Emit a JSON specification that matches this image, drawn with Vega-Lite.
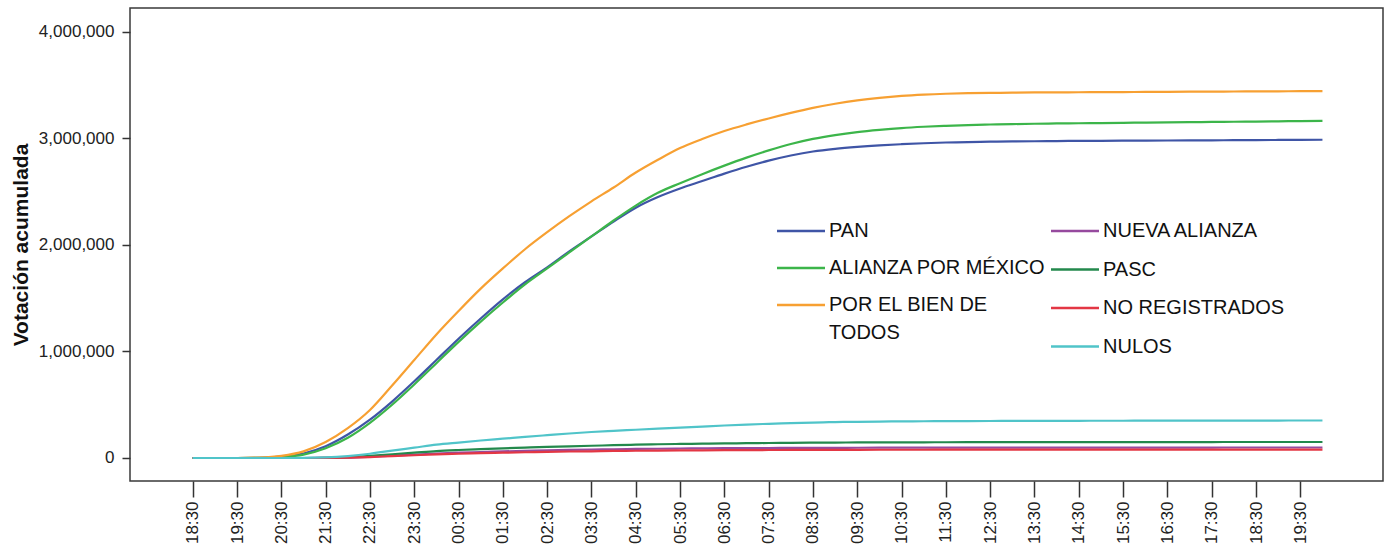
{
  "$schema": "https://vega.github.io/schema/vega-lite/v6.json",
  "autosize": {"type": "none"},
  "width": 1253,
  "height": 473,
  "padding": {"left": 130, "top": 8, "right": 5, "bottom": 73},
  "background": "white",
  "config": {
    "view": {"stroke": "#3a3a3a", "strokeWidth": 1.5},
    "font": "Liberation Sans"
  },
  "data": {"values": [
    {"t": "2006-07-02T18:30", "PAN": 0, "ALIANZA POR MÉXICO": 0, "POR EL BIEN DE TODOS": 0, "NUEVA ALIANZA": 0, "PASC": 0, "NO REGISTRADOS": 0, "NULOS": 0},
    {"t": "2006-07-02T19:00", "PAN": 0, "ALIANZA POR MÉXICO": 0, "POR EL BIEN DE TODOS": 0, "NUEVA ALIANZA": 0, "PASC": 0, "NO REGISTRADOS": 0, "NULOS": 0},
    {"t": "2006-07-02T19:30", "PAN": 0, "ALIANZA POR MÉXICO": 0, "POR EL BIEN DE TODOS": 0, "NUEVA ALIANZA": 0, "PASC": 0, "NO REGISTRADOS": 0, "NULOS": 0},
    {"t": "2006-07-02T20:00", "PAN": 2000, "ALIANZA POR MÉXICO": 1500, "POR EL BIEN DE TODOS": 4000, "NUEVA ALIANZA": 0, "PASC": 0, "NO REGISTRADOS": 0, "NULOS": 0},
    {"t": "2006-07-02T20:30", "PAN": 12000, "ALIANZA POR MÉXICO": 9000, "POR EL BIEN DE TODOS": 20000, "NUEVA ALIANZA": 0, "PASC": 0, "NO REGISTRADOS": 0, "NULOS": 0},
    {"t": "2006-07-02T21:00", "PAN": 42000, "ALIANZA POR MÉXICO": 32000, "POR EL BIEN DE TODOS": 62000, "NUEVA ALIANZA": 0, "PASC": 0, "NO REGISTRADOS": 0, "NULOS": 500},
    {"t": "2006-07-02T21:30", "PAN": 110000, "ALIANZA POR MÉXICO": 92000, "POR EL BIEN DE TODOS": 150000, "NUEVA ALIANZA": 1000, "PASC": 2000, "NO REGISTRADOS": 800, "NULOS": 5000},
    {"t": "2006-07-02T22:00", "PAN": 220000, "ALIANZA POR MÉXICO": 190000, "POR EL BIEN DE TODOS": 280000, "NUEVA ALIANZA": 4000, "PASC": 8000, "NO REGISTRADOS": 3000, "NULOS": 18000},
    {"t": "2006-07-02T22:30", "PAN": 360000, "ALIANZA POR MÉXICO": 330000, "POR EL BIEN DE TODOS": 450000, "NUEVA ALIANZA": 12000, "PASC": 20000, "NO REGISTRADOS": 9000, "NULOS": 40000},
    {"t": "2006-07-02T23:00", "PAN": 530000, "ALIANZA POR MÉXICO": 500000, "POR EL BIEN DE TODOS": 680000, "NUEVA ALIANZA": 22000, "PASC": 35000, "NO REGISTRADOS": 18000, "NULOS": 70000},
    {"t": "2006-07-02T23:30", "PAN": 720000, "ALIANZA POR MÉXICO": 690000, "POR EL BIEN DE TODOS": 920000, "NUEVA ALIANZA": 32000, "PASC": 50000, "NO REGISTRADOS": 26000, "NULOS": 97000},
    {"t": "2006-07-03T00:00", "PAN": 920000, "ALIANZA POR MÉXICO": 890000, "POR EL BIEN DE TODOS": 1160000, "NUEVA ALIANZA": 42000, "PASC": 65000, "NO REGISTRADOS": 34000, "NULOS": 125000},
    {"t": "2006-07-03T00:30", "PAN": 1120000, "ALIANZA POR MÉXICO": 1090000, "POR EL BIEN DE TODOS": 1380000, "NUEVA ALIANZA": 50000, "PASC": 75000, "NO REGISTRADOS": 40000, "NULOS": 145000},
    {"t": "2006-07-03T01:00", "PAN": 1310000, "ALIANZA POR MÉXICO": 1280000, "POR EL BIEN DE TODOS": 1590000, "NUEVA ALIANZA": 56000, "PASC": 83000, "NO REGISTRADOS": 45000, "NULOS": 164000},
    {"t": "2006-07-03T01:30", "PAN": 1490000, "ALIANZA POR MÉXICO": 1460000, "POR EL BIEN DE TODOS": 1780000, "NUEVA ALIANZA": 62000, "PASC": 90000, "NO REGISTRADOS": 50000, "NULOS": 181000},
    {"t": "2006-07-03T02:00", "PAN": 1650000, "ALIANZA POR MÉXICO": 1630000, "POR EL BIEN DE TODOS": 1960000, "NUEVA ALIANZA": 67000, "PASC": 98000, "NO REGISTRADOS": 54000, "NULOS": 198000},
    {"t": "2006-07-03T02:30", "PAN": 1790000, "ALIANZA POR MÉXICO": 1780000, "POR EL BIEN DE TODOS": 2120000, "NUEVA ALIANZA": 72000, "PASC": 105000, "NO REGISTRADOS": 58000, "NULOS": 214000},
    {"t": "2006-07-03T03:00", "PAN": 1940000, "ALIANZA POR MÉXICO": 1930000, "POR EL BIEN DE TODOS": 2270000, "NUEVA ALIANZA": 76000, "PASC": 110000, "NO REGISTRADOS": 61000, "NULOS": 230000},
    {"t": "2006-07-03T03:30", "PAN": 2080000, "ALIANZA POR MÉXICO": 2080000, "POR EL BIEN DE TODOS": 2410000, "NUEVA ALIANZA": 79000, "PASC": 115000, "NO REGISTRADOS": 63000, "NULOS": 244000},
    {"t": "2006-07-03T04:00", "PAN": 2220000, "ALIANZA POR MÉXICO": 2230000, "POR EL BIEN DE TODOS": 2540000, "NUEVA ALIANZA": 82000, "PASC": 120000, "NO REGISTRADOS": 66000, "NULOS": 255000},
    {"t": "2006-07-03T04:30", "PAN": 2350000, "ALIANZA POR MÉXICO": 2370000, "POR EL BIEN DE TODOS": 2680000, "NUEVA ALIANZA": 85000, "PASC": 125000, "NO REGISTRADOS": 68000, "NULOS": 265000},
    {"t": "2006-07-03T05:00", "PAN": 2450000, "ALIANZA POR MÉXICO": 2490000, "POR EL BIEN DE TODOS": 2800000, "NUEVA ALIANZA": 87000, "PASC": 129000, "NO REGISTRADOS": 70000, "NULOS": 275000},
    {"t": "2006-07-03T05:30", "PAN": 2530000, "ALIANZA POR MÉXICO": 2580000, "POR EL BIEN DE TODOS": 2910000, "NUEVA ALIANZA": 89000, "PASC": 132000, "NO REGISTRADOS": 71000, "NULOS": 285000},
    {"t": "2006-07-03T06:00", "PAN": 2600000, "ALIANZA POR MÉXICO": 2665000, "POR EL BIEN DE TODOS": 2995000, "NUEVA ALIANZA": 90000, "PASC": 134000, "NO REGISTRADOS": 72000, "NULOS": 295000},
    {"t": "2006-07-03T06:30", "PAN": 2670000, "ALIANZA POR MÉXICO": 2745000, "POR EL BIEN DE TODOS": 3070000, "NUEVA ALIANZA": 92000, "PASC": 137000, "NO REGISTRADOS": 73000, "NULOS": 305000},
    {"t": "2006-07-03T07:00", "PAN": 2735000, "ALIANZA POR MÉXICO": 2820000, "POR EL BIEN DE TODOS": 3132000, "NUEVA ALIANZA": 93000, "PASC": 139000, "NO REGISTRADOS": 74000, "NULOS": 314000},
    {"t": "2006-07-03T07:30", "PAN": 2792000, "ALIANZA POR MÉXICO": 2888000, "POR EL BIEN DE TODOS": 3188000, "NUEVA ALIANZA": 94000, "PASC": 141000, "NO REGISTRADOS": 75000, "NULOS": 321000},
    {"t": "2006-07-03T08:00", "PAN": 2840000, "ALIANZA POR MÉXICO": 2948000, "POR EL BIEN DE TODOS": 3240000, "NUEVA ALIANZA": 94500, "PASC": 142500, "NO REGISTRADOS": 75500, "NULOS": 327000},
    {"t": "2006-07-03T08:30", "PAN": 2878000, "ALIANZA POR MÉXICO": 2996000, "POR EL BIEN DE TODOS": 3287000, "NUEVA ALIANZA": 95000, "PASC": 144000, "NO REGISTRADOS": 76000, "NULOS": 333000},
    {"t": "2006-07-03T09:00", "PAN": 2903000, "ALIANZA POR MÉXICO": 3032000, "POR EL BIEN DE TODOS": 3326000, "NUEVA ALIANZA": 95500, "PASC": 145000, "NO REGISTRADOS": 76500, "NULOS": 337000},
    {"t": "2006-07-03T09:30", "PAN": 2921000, "ALIANZA POR MÉXICO": 3060000, "POR EL BIEN DE TODOS": 3358000, "NUEVA ALIANZA": 96000, "PASC": 146000, "NO REGISTRADOS": 77000, "NULOS": 340000},
    {"t": "2006-07-03T10:00", "PAN": 2935000, "ALIANZA POR MÉXICO": 3081000, "POR EL BIEN DE TODOS": 3382000, "NUEVA ALIANZA": 96500, "PASC": 146500, "NO REGISTRADOS": 77200, "NULOS": 342000},
    {"t": "2006-07-03T10:30", "PAN": 2946000, "ALIANZA POR MÉXICO": 3098000, "POR EL BIEN DE TODOS": 3400000, "NUEVA ALIANZA": 97000, "PASC": 147000, "NO REGISTRADOS": 77400, "NULOS": 344000},
    {"t": "2006-07-03T11:00", "PAN": 2955000, "ALIANZA POR MÉXICO": 3110000, "POR EL BIEN DE TODOS": 3412000, "NUEVA ALIANZA": 97200, "PASC": 147500, "NO REGISTRADOS": 77600, "NULOS": 345000},
    {"t": "2006-07-03T11:30", "PAN": 2962000, "ALIANZA POR MÉXICO": 3119000, "POR EL BIEN DE TODOS": 3420000, "NUEVA ALIANZA": 97400, "PASC": 148000, "NO REGISTRADOS": 77800, "NULOS": 346000},
    {"t": "2006-07-03T12:00", "PAN": 2966000, "ALIANZA POR MÉXICO": 3126000, "POR EL BIEN DE TODOS": 3425000, "NUEVA ALIANZA": 97600, "PASC": 148300, "NO REGISTRADOS": 78000, "NULOS": 347000},
    {"t": "2006-07-03T12:30", "PAN": 2970000, "ALIANZA POR MÉXICO": 3131000, "POR EL BIEN DE TODOS": 3428000, "NUEVA ALIANZA": 97700, "PASC": 148600, "NO REGISTRADOS": 78100, "NULOS": 347500},
    {"t": "2006-07-03T13:00", "PAN": 2972000, "ALIANZA POR MÉXICO": 3135000, "POR EL BIEN DE TODOS": 3430000, "NUEVA ALIANZA": 97800, "PASC": 148800, "NO REGISTRADOS": 78200, "NULOS": 348000},
    {"t": "2006-07-03T13:30", "PAN": 2974000, "ALIANZA POR MÉXICO": 3138000, "POR EL BIEN DE TODOS": 3432000, "NUEVA ALIANZA": 97900, "PASC": 149000, "NO REGISTRADOS": 78300, "NULOS": 348500},
    {"t": "2006-07-03T14:00", "PAN": 2976000, "ALIANZA POR MÉXICO": 3141000, "POR EL BIEN DE TODOS": 3433000, "NUEVA ALIANZA": 98000, "PASC": 149200, "NO REGISTRADOS": 78400, "NULOS": 349000},
    {"t": "2006-07-03T14:30", "PAN": 2977000, "ALIANZA POR MÉXICO": 3143000, "POR EL BIEN DE TODOS": 3434000, "NUEVA ALIANZA": 98000, "PASC": 149300, "NO REGISTRADOS": 78400, "NULOS": 349300},
    {"t": "2006-07-03T15:00", "PAN": 2978000, "ALIANZA POR MÉXICO": 3145000, "POR EL BIEN DE TODOS": 3435000, "NUEVA ALIANZA": 98100, "PASC": 149400, "NO REGISTRADOS": 78500, "NULOS": 349600},
    {"t": "2006-07-03T15:30", "PAN": 2979000, "ALIANZA POR MÉXICO": 3147000, "POR EL BIEN DE TODOS": 3436000, "NUEVA ALIANZA": 98100, "PASC": 149500, "NO REGISTRADOS": 78500, "NULOS": 349900},
    {"t": "2006-07-03T16:00", "PAN": 2980000, "ALIANZA POR MÉXICO": 3149000, "POR EL BIEN DE TODOS": 3437000, "NUEVA ALIANZA": 98200, "PASC": 149600, "NO REGISTRADOS": 78600, "NULOS": 350200},
    {"t": "2006-07-03T16:30", "PAN": 2981000, "ALIANZA POR MÉXICO": 3151000, "POR EL BIEN DE TODOS": 3438000, "NUEVA ALIANZA": 98200, "PASC": 149700, "NO REGISTRADOS": 78600, "NULOS": 350500},
    {"t": "2006-07-03T17:00", "PAN": 2982000, "ALIANZA POR MÉXICO": 3153000, "POR EL BIEN DE TODOS": 3439000, "NUEVA ALIANZA": 98300, "PASC": 149800, "NO REGISTRADOS": 78700, "NULOS": 350800},
    {"t": "2006-07-03T17:30", "PAN": 2983000, "ALIANZA POR MÉXICO": 3155000, "POR EL BIEN DE TODOS": 3440000, "NUEVA ALIANZA": 98300, "PASC": 149900, "NO REGISTRADOS": 78700, "NULOS": 351000},
    {"t": "2006-07-03T18:00", "PAN": 2984000, "ALIANZA POR MÉXICO": 3157000, "POR EL BIEN DE TODOS": 3441000, "NUEVA ALIANZA": 98400, "PASC": 150000, "NO REGISTRADOS": 78800, "NULOS": 351300},
    {"t": "2006-07-03T18:30", "PAN": 2985000, "ALIANZA POR MÉXICO": 3159000, "POR EL BIEN DE TODOS": 3442000, "NUEVA ALIANZA": 98400, "PASC": 150100, "NO REGISTRADOS": 78800, "NULOS": 351500},
    {"t": "2006-07-03T19:00", "PAN": 2986000, "ALIANZA POR MÉXICO": 3161000, "POR EL BIEN DE TODOS": 3443000, "NUEVA ALIANZA": 98500, "PASC": 150200, "NO REGISTRADOS": 78900, "NULOS": 351800},
    {"t": "2006-07-03T19:30", "PAN": 2987000, "ALIANZA POR MÉXICO": 3163000, "POR EL BIEN DE TODOS": 3444000, "NUEVA ALIANZA": 98500, "PASC": 150300, "NO REGISTRADOS": 78900, "NULOS": 352000},
    {"t": "2006-07-03T20:00", "PAN": 2988000, "ALIANZA POR MÉXICO": 3165000, "POR EL BIEN DE TODOS": 3445000, "NUEVA ALIANZA": 98600, "PASC": 150400, "NO REGISTRADOS": 79000, "NULOS": 352200}
  ]},
  "transform": [
    {"fold": ["PAN", "ALIANZA POR MÉXICO", "POR EL BIEN DE TODOS", "NUEVA ALIANZA", "PASC", "NO REGISTRADOS", "NULOS"], "as": ["serie", "votos"]}
  ],
  "encoding": {
    "x": {
      "field": "t", "type": "temporal",
      "scale": {"domain": [
        {"year": 2006, "month": 7, "date": 2, "hours": 17, "minutes": 5},
        {"year": 2006, "month": 7, "date": 3, "hours": 21, "minutes": 22}
      ], "nice": false},
      "axis": {
        "title": null, "grid": false, "domain": false,
        "values": [
          {"year": 2006, "month": 7, "date": 2, "hours": 18, "minutes": 30},
          {"year": 2006, "month": 7, "date": 2, "hours": 19, "minutes": 30},
          {"year": 2006, "month": 7, "date": 2, "hours": 20, "minutes": 30},
          {"year": 2006, "month": 7, "date": 2, "hours": 21, "minutes": 30},
          {"year": 2006, "month": 7, "date": 2, "hours": 22, "minutes": 30},
          {"year": 2006, "month": 7, "date": 2, "hours": 23, "minutes": 30},
          {"year": 2006, "month": 7, "date": 3, "hours": 0, "minutes": 30},
          {"year": 2006, "month": 7, "date": 3, "hours": 1, "minutes": 30},
          {"year": 2006, "month": 7, "date": 3, "hours": 2, "minutes": 30},
          {"year": 2006, "month": 7, "date": 3, "hours": 3, "minutes": 30},
          {"year": 2006, "month": 7, "date": 3, "hours": 4, "minutes": 30},
          {"year": 2006, "month": 7, "date": 3, "hours": 5, "minutes": 30},
          {"year": 2006, "month": 7, "date": 3, "hours": 6, "minutes": 30},
          {"year": 2006, "month": 7, "date": 3, "hours": 7, "minutes": 30},
          {"year": 2006, "month": 7, "date": 3, "hours": 8, "minutes": 30},
          {"year": 2006, "month": 7, "date": 3, "hours": 9, "minutes": 30},
          {"year": 2006, "month": 7, "date": 3, "hours": 10, "minutes": 30},
          {"year": 2006, "month": 7, "date": 3, "hours": 11, "minutes": 30},
          {"year": 2006, "month": 7, "date": 3, "hours": 12, "minutes": 30},
          {"year": 2006, "month": 7, "date": 3, "hours": 13, "minutes": 30},
          {"year": 2006, "month": 7, "date": 3, "hours": 14, "minutes": 30},
          {"year": 2006, "month": 7, "date": 3, "hours": 15, "minutes": 30},
          {"year": 2006, "month": 7, "date": 3, "hours": 16, "minutes": 30},
          {"year": 2006, "month": 7, "date": 3, "hours": 17, "minutes": 30},
          {"year": 2006, "month": 7, "date": 3, "hours": 18, "minutes": 30},
          {"year": 2006, "month": 7, "date": 3, "hours": 19, "minutes": 30}
        ],
        "format": "%H:%M", "labelAngle": -90, "labelFontSize": 17, "labelColor": "#222",
        "labelPadding": 4, "tickSize": 16, "tickColor": "#333", "tickWidth": 1.5, "labelOverlap": false, "labelFlush": false
      }
    },
    "y": {
      "field": "votos", "type": "quantitative",
      "scale": {"domain": [-216000, 4225000], "nice": false, "zero": false},
      "axis": {
        "values": [0, 1000000, 2000000, 3000000, 4000000], "format": ",d",
        "grid": false, "domain": false, "tickSize": 8, "tickColor": "#333", "tickWidth": 1.5,
        "labelFontSize": 17, "labelColor": "#222", "labelPadding": 8,
        "title": "Votación acumulada", "titleFontSize": 21, "titleFontWeight": "bold", "titleColor": "#111",
        "titleX": -103, "titleY": 236.5, "titleBaseline": "alphabetic", "titleAngle": -90
      }
    }
  },
  "layer": [
    {
      "transform": [{"filter": {"field": "serie", "oneOf": ["PAN", "ALIANZA POR MÉXICO", "POR EL BIEN DE TODOS"]}}],
      "mark": {"type": "line", "interpolate": "monotone", "strokeWidth": 2.2},
      "encoding": {
        "color": {
          "field": "serie", "type": "nominal",
          "scale": {"domain": ["PAN", "ALIANZA POR MÉXICO", "POR EL BIEN DE TODOS"], "range": ["#3f55a6", "#3cb54a", "#f7a032"]},
          "legend": {
            "orient": "none", "legendX": 661, "legendY": 213, "title": null, "padding": 0,
            "symbolType": "M-4,0H4", "symbolSize": 144, "symbolStrokeWidth": 2.5,
            "labelFontSize": 20, "labelFont": "Liberation Sans", "labelColor": "#111", "labelOffset": 18, "labelLimit": 500,
            "rowPadding": 17,
            "labelExpr": "datum.label == 'POR EL BIEN DE TODOS' ? ['POR EL BIEN DE', 'TODOS'] : datum.label",
            "encode": {"labels": {"update": {"lineHeight": {"value": 28}}}}
          }
        }
      }
    },
    {
      "transform": [{"filter": {"field": "serie", "oneOf": ["NUEVA ALIANZA", "PASC", "NO REGISTRADOS", "NULOS"]}}],
      "mark": {"type": "line", "interpolate": "monotone", "strokeWidth": 2.2},
      "encoding": {
        "stroke": {
          "field": "serie", "type": "nominal",
          "scale": {"domain": ["NUEVA ALIANZA", "PASC", "NO REGISTRADOS", "NULOS"], "range": ["#964a9e", "#23894c", "#e33744", "#50c4c9"]},
          "legend": {
            "orient": "none", "legendX": 935, "legendY": 213, "title": null, "padding": 0,
            "symbolType": "M-4,0H4", "symbolSize": 144, "symbolStrokeWidth": 2.5,
            "labelFontSize": 20, "labelFont": "Liberation Sans", "labelColor": "#111", "labelOffset": 18, "labelLimit": 500,
            "rowPadding": 18.5
          }
        }
      }
    }
  ]
}
